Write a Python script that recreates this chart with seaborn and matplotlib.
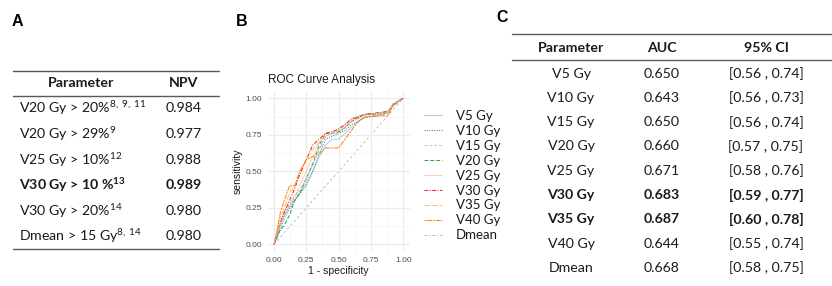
import numpy as np
import pandas as pd
import matplotlib
matplotlib.use("Agg")
import matplotlib.pyplot as plt
import seaborn as sns

# --- data ---
npv_params = ["V20 Gy > 20%", "V20 Gy > 29%", "V25 Gy > 10%", "V30 Gy > 10 %", "V30 Gy > 20%", "Dmean > 15 Gy"]
npv_refs = ["8, 9, 11", "9", "12", "13", "14", "8, 14"]
npv_values = ["0.984", "0.977", "0.988", "0.989", "0.980", "0.980"]
npv_bold = [False, False, False, True, False, False]

auc_params = ["V5 Gy", "V10 Gy", "V15 Gy", "V20 Gy", "V25 Gy", "V30 Gy", "V35 Gy", "V40 Gy", "Dmean"]
auc_values = ["0.650", "0.643", "0.650", "0.660", "0.671", "0.683", "0.687", "0.644", "0.668"]
auc_ci = ["[0.56 , 0.74]", "[0.56 , 0.73]", "[0.56 , 0.74]", "[0.57 , 0.75]", "[0.58 , 0.76]",
          "[0.59 , 0.77]", "[0.60 , 0.78]", "[0.55 , 0.74]", "[0.58 , 0.75]"]
auc_bold = [False, False, False, False, False, True, True, False, False]

fpr = [0, 0.02, 0.05, 0.08, 0.12, 0.16, 0.2, 0.25, 0.3, 0.35, 0.4, 0.45, 0.5, 0.55, 0.6, 0.65, 0.7, 0.8, 0.88, 0.92, 0.96, 1.0]
tpr_v5 = [0, 0.05, 0.13, 0.2, 0.26, 0.3, 0.35, 0.42, 0.5, 0.6, 0.68, 0.72, 0.72, 0.76, 0.8, 0.84, 0.87, 0.88, 0.9, 0.95, 0.97, 1.0]
tpr_v10 = [0, 0.03, 0.1, 0.18, 0.24, 0.3, 0.35, 0.4, 0.5, 0.62, 0.72, 0.74, 0.76, 0.78, 0.82, 0.84, 0.87, 0.88, 0.9, 0.95, 0.98, 1.0]
tpr_v15 = [0, 0.05, 0.13, 0.19, 0.27, 0.33, 0.37, 0.45, 0.55, 0.65, 0.74, 0.76, 0.76, 0.8, 0.84, 0.87, 0.88, 0.88, 0.9, 0.96, 0.98, 1.0]
tpr_v20 = [0, 0.05, 0.1, 0.13, 0.2, 0.3, 0.35, 0.45, 0.55, 0.68, 0.76, 0.76, 0.77, 0.8, 0.84, 0.87, 0.89, 0.89, 0.9, 0.96, 0.98, 1.0]
tpr_v25 = [0, 0.06, 0.15, 0.22, 0.28, 0.33, 0.4, 0.5, 0.6, 0.7, 0.76, 0.77, 0.79, 0.82, 0.85, 0.87, 0.89, 0.9, 0.91, 0.96, 0.98, 1.0]
tpr_v30 = [0, 0.06, 0.15, 0.22, 0.3, 0.38, 0.48, 0.58, 0.68, 0.72, 0.76, 0.77, 0.79, 0.82, 0.86, 0.87, 0.89, 0.9, 0.91, 0.95, 0.98, 1.0]
tpr_v35 = [0, 0.08, 0.18, 0.25, 0.35, 0.4, 0.5, 0.58, 0.65, 0.7, 0.74, 0.76, 0.78, 0.8, 0.84, 0.86, 0.87, 0.88, 0.9, 0.95, 0.98, 1.0]
tpr_v40 = [0, 0.08, 0.22, 0.3, 0.4, 0.4, 0.5, 0.58, 0.6, 0.62, 0.66, 0.66, 0.66, 0.72, 0.78, 0.84, 0.87, 0.88, 0.88, 0.95, 0.98, 1.0]
tpr_dmean = [0, 0.06, 0.14, 0.2, 0.26, 0.32, 0.37, 0.45, 0.55, 0.65, 0.74, 0.76, 0.78, 0.8, 0.86, 0.88, 0.89, 0.89, 0.9, 0.96, 0.98, 1.0]

roc_tprs = [tpr_v5, tpr_v10, tpr_v15, tpr_v20, tpr_v25, tpr_v30, tpr_v35, tpr_v40, tpr_dmean]
roc_colors = ["#a6cee3", "#1f78b4", "#b2df8a", "#33a02c", "#fb9a99", "#e31a1c", "#fdbf6f", "#ff7f00", "#cab2d6"]
roc_styles = ["-", (0, (1, 1.5)), (0, (3, 2)), (0, (4, 2)), (0, (1, 1)),
              (0, (4, 1.5, 1, 1.5)), (0, (6, 2)), (0, (2, 1, 5, 1)), (0, (3, 2, 1, 2))]
ticks = [0.0, 0.25, 0.5, 0.75, 1.0]
tick_labels = ["0.00", "0.25", "0.50", "0.75", "1.00"]

# --- style ---
sns.set_theme(style="whitegrid")
plt.rcParams["font.family"] = ["Lato", "DejaVu Sans"]
plt.rcParams["mathtext.fontset"] = "custom"
plt.rcParams["mathtext.rm"] = "Lato"
plt.rcParams["mathtext.bf"] = "Lato:bold"
plt.rcParams["mathtext.it"] = "Lato:italic"

W, H = 832, 286
fig = plt.figure(figsize=(W / 100, H / 100), dpi=100)

# overlay in pixel coordinates for the tables
ov = fig.add_axes([0, 0, 1, 1])
ov.set_xlim(0, W)
ov.set_ylim(H, 0)
ov.axis("off")

lab_font = dict(family="Liberation Sans", fontweight="bold", fontsize=11.5, color="black")
ov.text(12, 22, "A", va="center", ha="left", **lab_font)
ov.text(236, 22, "B", va="center", ha="left", **lab_font)
ov.text(496, 17, "C", va="center", ha="left", **lab_font)

tfs = 10.2
txt_col = "#1a1a1a"
rule = dict(color="#595959", lw=1.0)

# panel A table
ov.plot([13, 219], [70.5, 70.5], **rule)
ov.plot([13, 219], [96, 96], **rule)
ov.plot([13, 219], [248.5, 248.5], **rule)
ov.text(81, 83, "Parameter", ha="center", va="center", fontsize=tfs, fontweight="bold", color=txt_col)
ov.text(184, 83, "NPV", ha="center", va="center", fontsize=tfs, fontweight="bold", color=txt_col)
for i, (p, r, v, b) in enumerate(zip(npv_params, npv_refs, npv_values, npv_bold)):
    y = 108.5 + i * 25.6
    ref = r.replace(" ", r"\ ")
    if b:
        s = p + r"$^{\mathbf{" + ref + "}}$"
    else:
        s = p + r"$^{\mathrm{" + ref + "}}$"
    ov.text(19, y, s, ha="left", va="center", fontsize=tfs,
            fontweight="bold" if b else "normal", color=txt_col)
    ov.text(184, y, v, ha="center", va="center", fontsize=tfs,
            fontweight="bold" if b else "normal", color=txt_col)

# panel C table
ov.plot([512, W], [34, 34], **rule)
ov.plot([512, W], [60, 60], **rule)
cx = [571, 662, 766]
for x, h in zip(cx, ["Parameter", "AUC", "95% CI"]):
    ov.text(x, 47.5, h, ha="center", va="center", fontsize=tfs, fontweight="bold", color=txt_col)
for i, (p, a, c, b) in enumerate(zip(auc_params, auc_values, auc_ci, auc_bold)):
    y = 73.5 + i * 24.3
    for x, s in zip(cx, [p, a, c]):
        ov.text(x, y, s, ha="center", va="center", fontsize=tfs,
                fontweight="bold" if b else "normal", color=txt_col)

# panel B: ROC curves
ax = fig.add_axes([267.5 / W, 1 - 251.6 / H, 142.3 / W, 160.6 / H])
ax.set_facecolor("white")
for name, tpr, col, ls in zip(auc_params, roc_tprs, roc_colors, roc_styles):
    sns.lineplot(x=fpr, y=tpr, ax=ax, color=col, linestyle=ls, lw=0.7,
                 sort=False, estimator=None, label=name)
ax.plot([0, 1], [0, 1], color="#b3b3b3", lw=0.6, linestyle=(0, (3, 3)), zorder=0)
ax.set_xlim(-0.05, 1.05)
ax.set_ylim(-0.05, 1.05)
ax.set_xticks(ticks)
ax.set_yticks(ticks)
ax.set_xticks([0.125, 0.375, 0.625, 0.875], minor=True)
ax.set_yticks([0.125, 0.375, 0.625, 0.875], minor=True)
ax.set_xticklabels(tick_labels)
ax.set_yticklabels(tick_labels)
ax.grid(which="major", color="#ebebeb", lw=0.8)
ax.grid(which="minor", color="#f3f3f3", lw=0.5)
for sp in ax.spines.values():
    sp.set_visible(False)
ax.tick_params(axis="both", which="both", length=0, labelsize=6, labelcolor="#4d4d4d", pad=4)
for t in ax.get_xticklabels() + ax.get_yticklabels():
    t.set_family("Liberation Sans")
ax.set_xlabel("1 - specificity", fontsize=7.5, family="Liberation Sans", color=txt_col, labelpad=1)
ax.set_ylabel("sensitivity", fontsize=7.5, family="Liberation Sans", color=txt_col, labelpad=2)
ax.set_title("ROC Curve Analysis", fontsize=8.5, family="Liberation Sans", color=txt_col,
             loc="left", pad=6)
leg = ax.legend(loc="upper left", bbox_to_anchor=(424 / W, 1 - 110 / H), bbox_transform=fig.transFigure,
                frameon=False, fontsize=9.5, handlelength=1.4, labelspacing=0.22, handletextpad=1.0,
                borderaxespad=0, borderpad=0)
for t in leg.get_texts():
    t.set_color(txt_col)

fig.savefig("out.png", dpi=100)
